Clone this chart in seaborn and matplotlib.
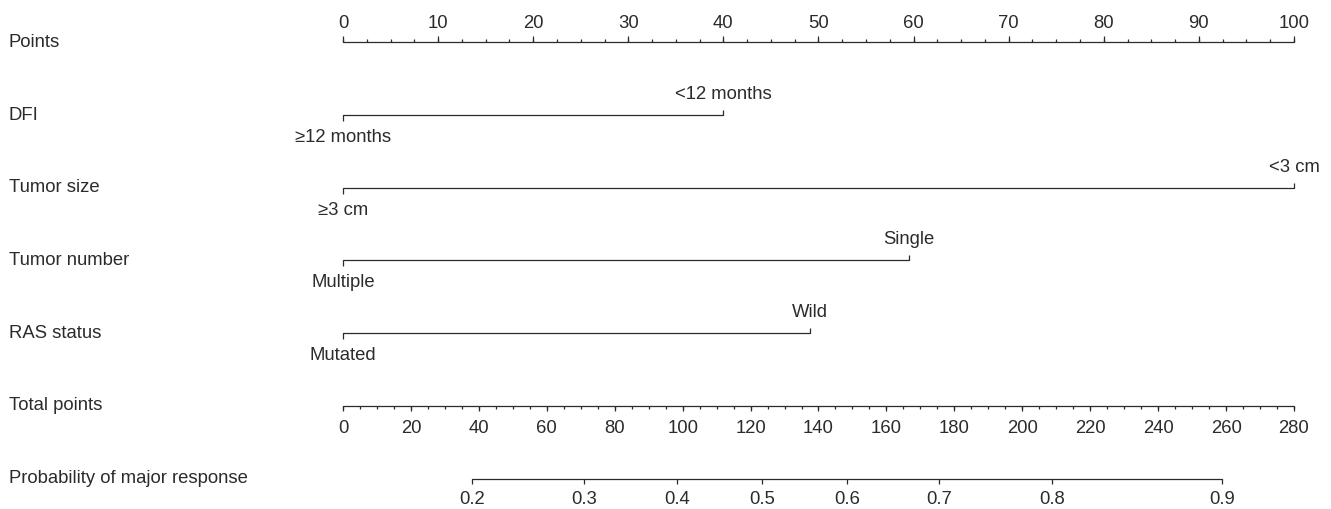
import numpy as np
import pandas as pd
import seaborn as sns
import matplotlib.pyplot as plt

# ---------------- data ----------------
row_labels = ["Points", "DFI", "Tumor size", "Tumor number", "RAS status",
              "Total points", "Probability of major response"]

points_ticks = list(range(0, 101, 10))
points_minor = list(np.arange(0, 100.1, 2.5))

variables = ["DFI", "Tumor size", "Tumor number", "RAS status"]
low_levels = ["≥12 months", "≥3 cm", "Multiple", "Mutated"]
high_levels = ["<12 months", "<3 cm", "Single", "Wild"]
high_points = [40, 100, 59.5, 49.1]

total_ticks = list(range(0, 281, 20))
total_minor = list(range(0, 281, 5))
total_max = 280

prob_labels = ["0.2", "0.3", "0.4", "0.5", "0.6", "0.7", "0.8", "0.9"]
prob_total_points = [38.0, 71.0, 98.3, 123.4, 148.4, 175.5, 208.7, 258.8]

# ---------------- style ----------------
sns.set_theme(style="white")
plt.rcParams['font.family'] = ['Liberation Sans', 'DejaVu Sans']
ink = "#2b2b2b"
fs = 13.3
lw = 0.9

W, H = 1331, 509
px_per_pt = 9.51          # pixels per point on the Points scale
x0_px = 343               # pixel position of 0 points
row0_px, row_gap_px = 42.3, 72.7

fig = plt.figure(figsize=(W / 100, H / 100), dpi=100)
ax = fig.add_axes([0, 0, 1, 1])
ax.set_xlim(-x0_px / px_per_pt, (W - x0_px) / px_per_pt)
ax.set_ylim((H - row0_px) / row_gap_px, -row0_px / row_gap_px)
ax.axis("off")

px = 1 / row_gap_px  # one pixel in row units


def scale_to_points(v):
    return np.asarray(v, dtype=float) * 100 / total_max


# row labels on the left
for i, lab in enumerate(row_labels):
    ax.annotate(lab, xy=(0, i), xycoords=("figure pixels", "data"),
                xytext=(9, 0), textcoords="offset pixels",
                ha="left", va="center", fontsize=fs, color=ink)

# ---- Points scale (row 0): ticks up, labels above
sns.lineplot(x=[0, 100], y=[0, 0], ax=ax, color=ink, lw=lw)
ax.vlines(points_minor, 0, -3 * px, color=ink, lw=lw)
ax.vlines(points_ticks, 0, -6 * px, color=ink, lw=lw)
for t in points_ticks:
    ax.annotate(str(t), xy=(t, 0), xytext=(0, 14), textcoords="offset pixels",
                ha="center", va="baseline", fontsize=fs, color=ink)

# ---- variable rows
seg = pd.DataFrame({
    "var": np.repeat(variables, 2),
    "x": np.ravel([[0, h] for h in high_points]),
    "row": np.repeat(np.arange(1, len(variables) + 1), 2),
})
sns.lineplot(data=seg, x="x", y="row", units="var", estimator=None,
             ax=ax, color=ink, lw=lw, sort=False)
for i, (lo, hi, hp) in enumerate(zip(low_levels, high_levels, high_points)):
    r = i + 1
    ax.vlines(0, r, r + 6 * px, color=ink, lw=lw)
    ax.vlines(hp, r, r - 5 * px, color=ink, lw=lw)
    ax.annotate(hi, xy=(hp, r), xytext=(0, 16), textcoords="offset pixels",
                ha="center", va="baseline", fontsize=fs, color=ink)
    ax.annotate(lo, xy=(0, r), xytext=(0, -27), textcoords="offset pixels",
                ha="center", va="baseline", fontsize=fs, color=ink)

# ---- Total points (row 5): ticks down, labels below
r = 5
sns.lineplot(x=scale_to_points([0, total_max]), y=[r, r], ax=ax, color=ink, lw=lw)
ax.vlines(scale_to_points(total_minor), r, r + 3 * px, color=ink, lw=lw)
ax.vlines(scale_to_points(total_ticks), r, r + 5 * px, color=ink, lw=lw)
for t in total_ticks:
    ax.annotate(str(t), xy=(scale_to_points(t), r), xytext=(0, -27),
                textcoords="offset pixels", ha="center", va="baseline",
                fontsize=fs, color=ink)

# ---- Probability (row 6)
r = 6
pp = scale_to_points(prob_total_points)
sns.lineplot(x=[pp[0], pp[-1]], y=[r, r], ax=ax, color=ink, lw=lw)
ax.vlines(pp, r, r + 5 * px, color=ink, lw=lw)
for lab, p in zip(prob_labels, pp):
    ax.annotate(lab, xy=(p, r), xytext=(0, -25), textcoords="offset pixels",
                ha="center", va="baseline", fontsize=fs, color=ink)

fig.savefig("out.png", dpi=100)
